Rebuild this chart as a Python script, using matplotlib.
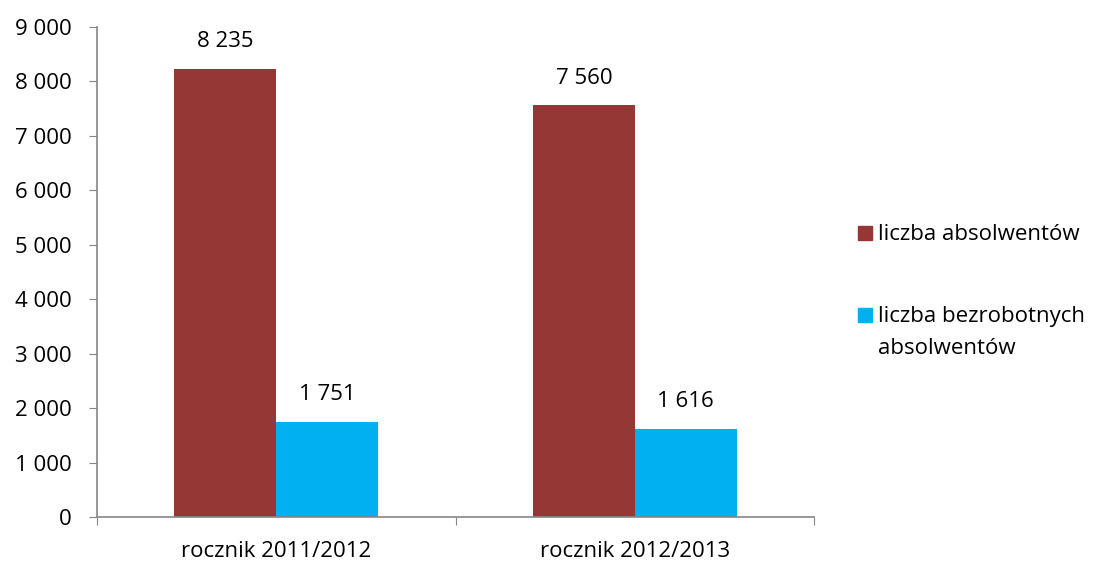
import numpy as np
import matplotlib.pyplot as plt
from matplotlib.patches import Rectangle

# dane z wykresu
kategorie = ['rocznik 2011/2012', 'rocznik 2012/2013']
absolwenci = [8235, 7560]
bezrobotni = [1751, 1616]
serie = ['liczba absolwentów', 'liczba bezrobotnych\nabsolwentów']
kolory = ['#953735', '#00B0F0']

plt.rcParams['font.family'] = ['Open Sans', 'DejaVu Sans']
fs = 16
W, H = 1097, 563

fig = plt.figure(figsize=(W/100, H/100), dpi=100)
ax = fig.add_axes([97/W, 1-517/H, (814-97)/W, (517-27)/H])

x = np.arange(len(kategorie)) + 0.5
w = 0.284
b1 = ax.bar(x - w/2, absolwenci, w, color=kolory[0])
b2 = ax.bar(x + w/2, bezrobotni, w, color=kolory[1])

def fmt(v):
    return f'{v:,.0f}'.replace(',', ' ')

for bars, vals in [(b1, absolwenci), (b2, bezrobotni)]:
    for r, v in zip(bars, vals):
        ax.annotate(fmt(v), (r.get_x() + r.get_width()/2, v),
                    xytext=(0, 12), textcoords='offset points',
                    ha='center', va='bottom', fontsize=fs)

ax.set_xlim(0, len(kategorie))
ax.set_ylim(0, 9000)
ax.set_yticks(range(0, 9001, 1000))
ax.set_yticklabels([fmt(v) for v in range(0, 9001, 1000)], fontsize=fs)
ax.set_xticks(np.arange(len(kategorie) + 1))
ax.set_xticklabels([])
ax.set_xticks(x, minor=True)
ax.set_xticklabels(kategorie, minor=True, fontsize=fs)
ax.tick_params(axis='x', which='minor', length=0, pad=17)
ax.tick_params(axis='x', which='major', length=6, color='#868686')
ax.tick_params(axis='y', length=6, color='#868686', pad=12)

for s in ['top', 'right']:
    ax.spines[s].set_visible(False)
for s in ['left', 'bottom']:
    ax.spines[s].set_color('#868686')
    ax.spines[s].set_linewidth(1.2)

# legenda rysowana recznie (znacznik przy pierwszej linii opisu)
for yc, c, lab in zip([233, 315], kolory, serie):
    fig.patches.append(Rectangle((858/W, 1-(yc+7)/H), 14/W, 14/H,
                                 transform=fig.transFigure, color=c))
    fig.text(878/W, 1-(yc-9)/H, lab, fontsize=fs, va='top', ha='left',
             linespacing=1.7)

fig.savefig('out.png', dpi=100)
